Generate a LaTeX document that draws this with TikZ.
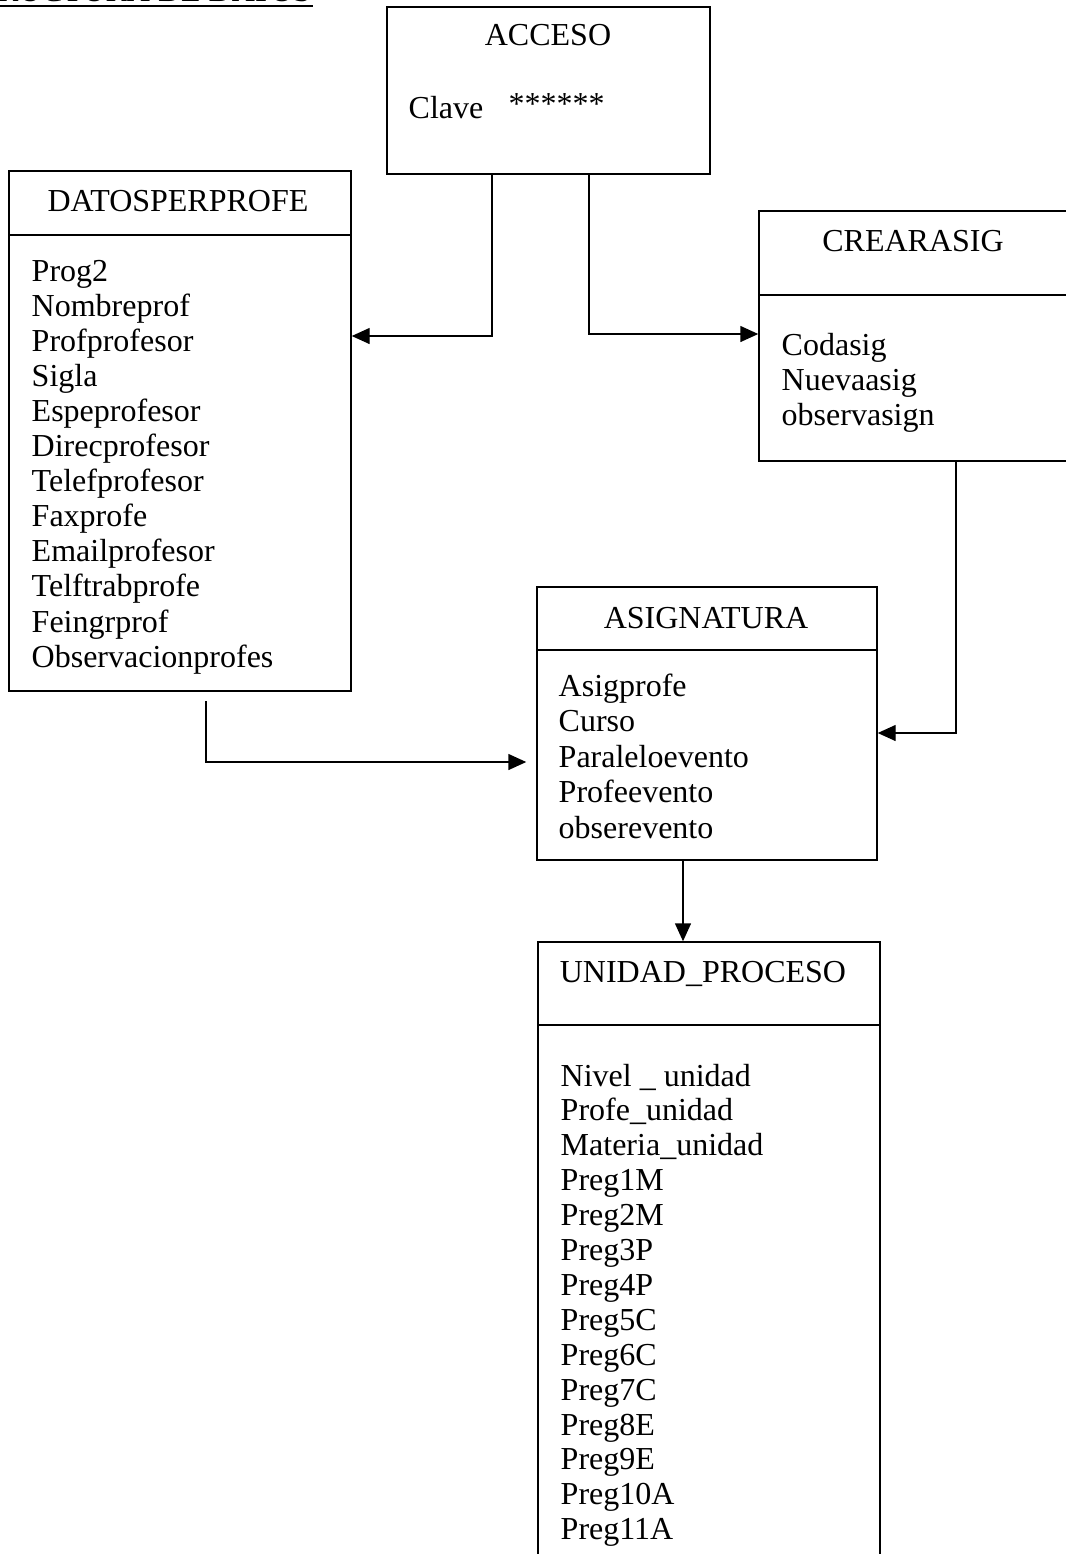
\documentclass[tikz,border=0pt]{standalone}
\usepackage{fontspec}
\setmainfont{Liberation Serif}
\usetikzlibrary{arrows.meta,fit}
\begin{document}
\begin{tikzpicture}[x=0.75pt,y=-0.75pt,
  line width=1.1pt,
  box/.style={draw,inner sep=0pt,fit={#1}},
  title/.style={font=\fontsize{24}{26}\selectfont,anchor=base,inner sep=0pt},
  item/.style={font=\fontsize{24}{26}\selectfont,anchor=base west,inner sep=0pt},
  arr/.style={-{Triangle[length=13.5pt,width=12pt]}}]
\clip (0,0) rectangle (1066,1554);
\useasboundingbox (0,0) rectangle (1066,1554);

% heading, cut by the page edge
\node[item,anchor=base east] (head) at (312,1) {ESTRUCTURA DE DATOS};
\draw[line width=0.9pt] (head.west |- 0,6) -- (313,6);

% tables
\node[box={(387,7) (710,174)}] (acceso) {};
\node[title] (taccess) at (548,45) {ACCESO};
\node[item] (clave) at (408,118) {Clave};
\node[item] (stars) at (508,114) {******};

\node[box={(9,171) (351,691)}] (datos) {};
\coordinate (s1) at (0,235);
\draw (datos.west |- s1) -- (datos.east |- s1);
\node[title] (tdatos) at (178,211) {DATOSPERPROFE};
\foreach \t [count=\i] in {Prog2,Nombreprof,Profprofesor,Sigla,Espeprofesor,
  Direcprofesor,Telefprofesor,Faxprofe,Emailprofesor,Telftrabprofe,Feingrprof,
  Observacionprofes}
  \node[item] (d\i) at (31,{281+35.1*(\i-1)}) {\t};

\node[box={(759,211) (1080,461)}] (crear) {};
\coordinate (s2) at (0,295);
\draw (crear.west |- s2) -- (crear.east |- s2);
\node[title] (tcrear) at (913,251) {CREARASIG};
\foreach \t [count=\i] in {Codasig,Nuevaasig,observasign}
  \node[item] (c\i) at (781,{355+35*(\i-1)}) {\t};

\node[box={(537,587) (877,860)}] (asig) {};
\coordinate (s3) at (0,650);
\draw (asig.west |- s3) -- (asig.east |- s3);
\node[title] (tasig) at (706,628) {ASIGNATURA};
\foreach \t [count=\i] in {Asigprofe,Curso,Paraleloevento,Profeevento,obserevento}
  \node[item] (a\i) at (558,{696+35.5*(\i-1)}) {\t};

\node[box={(538,942) (880,1600)}] (unidad) {};
\coordinate (s4) at (0,1025);
\draw (unidad.west |- s4) -- (unidad.east |- s4);
\node[title] (tunidad) at (703,982) {UNIDAD\_PROCESO};
\foreach \t [count=\i] in {Nivel \_ unidad,Profe\_unidad,Materia\_unidad,Preg1M,
  Preg2M,Preg3P,Preg4P,Preg5C,Preg6C,Preg7C,Preg8E,Preg9E,Preg10A,Preg11A}
  \node[item] (u\i) at (560,{1086+34.9*(\i-1)}) {\t};

% connectors
\coordinate (j1) at (492,336);
\coordinate (j2) at (589,334);
\coordinate (j3) at (956,733);
\coordinate (j4) at (206,762);
\coordinate (j5) at (683,0);
\draw[arr] (acceso.south -| j1) |- (datos.east |- j1);
\draw[arr] (acceso.south -| j2) |- (crear.west |- j2);
\draw[arr] (crear.south -| j3) |- (asig.east |- j3);
\draw[arr] ([yshift=-7pt]datos.south -| j4) |- ([xshift=-7.5pt]asig.west |- j4);
\draw[arr] (asig.south -| j5) -- (unidad.north -| j5);
\end{tikzpicture}
\end{document}
